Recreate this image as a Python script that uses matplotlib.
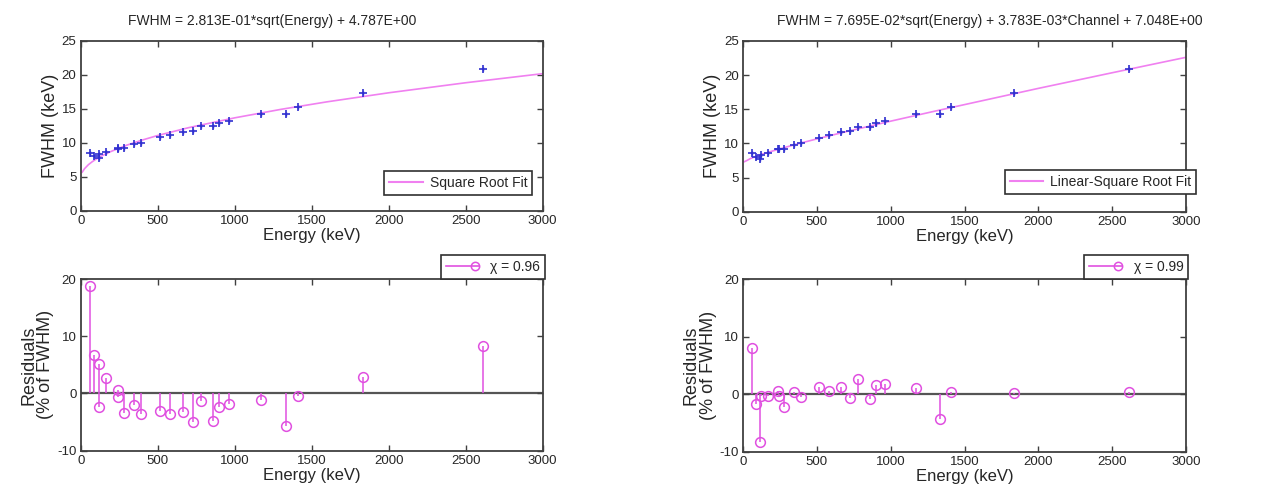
import matplotlib
matplotlib.use("Agg")
import matplotlib.pyplot as plt
from matplotlib.lines import Line2D
from matplotlib.legend_handler import HandlerBase

plt.rcParams['font.family'] = ['Liberation Sans', 'DejaVu Sans']
plt.rcParams['axes.unicode_minus'] = False

# ---- data ----
energy = [59.5, 88, 116, 122, 166, 239, 245, 280, 344, 392, 514, 583, 662,
          727, 779, 861, 898, 964, 1173, 1332, 1408, 1836, 2614]
fwhm = [8.56, 8.0, 7.7, 8.3, 8.63, 9.2, 9.13, 9.2, 9.81, 10.0, 10.85, 11.18,
        11.65, 11.79, 12.46, 12.44, 12.92, 13.28, 14.25, 14.24, 15.28, 17.33, 20.9]
fwhm_err = [0.3] * len(energy)

resid_sqrt = [18.7, 6.8, -2.3, 5.2, 2.7, 0.6, -0.7, -3.5, -2.0, -3.6, -3.0, -3.6,
              -3.2, -4.9, -1.4, -4.8, -2.3, -1.8, -1.2, -5.7, -0.4, 2.8, 8.3]
resid_lin = [8.1, -1.7, -8.3, -0.3, -0.3, 0.6, -0.4, -2.2, 0.4, -0.5, 1.3, 0.6,
             1.2, -0.7, 2.6, -0.9, 1.5, 1.7, 1.1, -4.3, 0.3, 0.2, 0.3]

# fitted curves
fit_energy = [10, 25, 50, 75, 100, 150, 200, 300, 400, 500, 700, 1000, 1300,
              1600, 2000, 2500, 3000]
fit_sqrt = [5.68, 6.19, 6.78, 7.22, 7.60, 8.23, 8.76, 9.66, 10.41, 11.08, 12.23,
            13.68, 14.93, 16.04, 17.37, 18.85, 20.19]
fit_lin = [7.33, 7.48, 7.78, 8.00, 8.20, 8.56, 8.89, 9.51, 10.10, 10.66, 11.73,
           13.26, 14.73, 16.16, 18.06, 20.35, 22.61]

titles = ["FWHM = 2.813E-01*sqrt(Energy) + 4.787E+00",
          "FWHM = 7.695E-02*sqrt(Energy) + 3.783E-03*Channel + 7.048E+00"]
fit_labels = ["Square Root Fit", "Linear-Square Root Fit"]
chi_labels = ["\u03c7 = 0.96", "\u03c7 = 0.99"]

W, H = 1265, 492
fig = plt.figure(figsize=(W / 100, H / 100), dpi=100)

FRAME = '#404040'
TXT = '#262626'
FITC = '#f080f0'
STEMC = '#e050e0'
PTC = '#3030d0'


class LineMarkerRight(HandlerBase):
    """Legend handle: a line with an open circle at its right end."""
    def create_artists(self, legend, orig_handle, xdescent, ydescent,
                       width, height, fontsize, trans):
        y = height / 2 - ydescent
        ln = Line2D([-xdescent, width - xdescent], [y, y], color=STEMC,
                    lw=1.2, transform=trans)
        mk = Line2D([width - xdescent - 3], [y], color=STEMC, marker='o',
                    mfc='none', ms=6, mew=1.1, linestyle='none',
                    transform=trans)
        return [ln, mk]


def style(ax, xlim, ylim, yticks):
    ax.set_xlim(*xlim)
    ax.set_ylim(*ylim)
    ax.set_xticks([0, 500, 1000, 1500, 2000, 2500, 3000])
    ax.set_yticks(yticks)
    ax.tick_params(direction='in', top=True, right=True, length=4, width=1,
                   color=FRAME, labelsize=9.5, labelcolor=TXT, pad=3)
    for s in ax.spines.values():
        s.set_color(FRAME)
        s.set_linewidth(1.3)


def ax_px(x0, x1, y0, y1):
    return fig.add_axes([x0 / W, 1 - y1 / H, (x1 - x0) / W, (y1 - y0) / H])


top_axes = [ax_px(80.7, 542.7, 41, 210.7), ax_px(743, 1186, 41, 211.7)]
bot_axes = [ax_px(80.7, 542.7, 279, 450.7), ax_px(743, 1186, 279, 451.7)]
fits = [fit_sqrt, fit_lin]
resids = [resid_sqrt, resid_lin]
title_x = [271.7, 990]
leg_top_anchor = [(0.977, 0.092), (1.023, 0.104)]

for i in range(2):
    ax = top_axes[i]
    ax.plot(fit_energy, fits[i], color=FITC, lw=1.2, zorder=2)
    ax.errorbar(energy, fwhm, yerr=fwhm_err, fmt='+', color=PTC, ms=6, mew=1.2,
                elinewidth=1.0, capsize=0, zorder=3)
    style(ax, (0, 3000), (0, 25), [0, 5, 10, 15, 20, 25])
    ax.set_xlabel("Energy (keV)", fontsize=12, color=TXT, labelpad=1)
    ax.set_ylabel("FWHM (keV)", fontsize=13, color=TXT, labelpad=2)
    h = Line2D([], [], color=FITC, lw=1.5)
    leg = ax.legend([h], [fit_labels[i]], loc='lower right',
                    bbox_to_anchor=leg_top_anchor[i], fontsize=10,
                    fancybox=False, framealpha=1, edgecolor='#303030',
                    handlelength=2.4, borderpad=0.35, handletextpad=0.5,
                    borderaxespad=0)
    leg.get_frame().set_linewidth(1.2)
    for t in leg.get_texts():
        t.set_color(TXT)
    fig.text(title_x[i] / W, 1 - 21 / H, titles[i], ha='center', va='center',
             fontsize=10, color=TXT)

    bx = bot_axes[i]
    bx.axhline(0, color='#555555', lw=1.6, zorder=1)
    ml, sl, bl = bx.stem(energy, resids[i], basefmt=' ')
    plt.setp(sl, color=STEMC, lw=1.1)
    plt.setp(ml, color=STEMC, marker='o', ms=7, mfc='none', mew=1.1)
    style(bx, (0, 3000), (-10, 20), [-10, 0, 10, 20])
    bx.set_xlabel("Energy (keV)", fontsize=12, color=TXT, labelpad=1)
    bx.set_ylabel("Residuals\n(% of FWHM)", fontsize=13, color=TXT,
                  labelpad=2, linespacing=1.0)
    h2 = Line2D([], [], color=STEMC)
    leg2 = bx.legend([h2], [chi_labels[i]], loc='lower right',
                     bbox_to_anchor=(1.005, 1.0), fontsize=10,
                     handler_map={h2: LineMarkerRight()},
                     fancybox=False, framealpha=1, edgecolor='#303030',
                     handlelength=2.4, borderpad=0.35, handletextpad=0.8,
                     borderaxespad=0)
    leg2.get_frame().set_linewidth(1.2)
    for t in leg2.get_texts():
        t.set_color(TXT)

fig.savefig("out.png", dpi=100, facecolor='white')
